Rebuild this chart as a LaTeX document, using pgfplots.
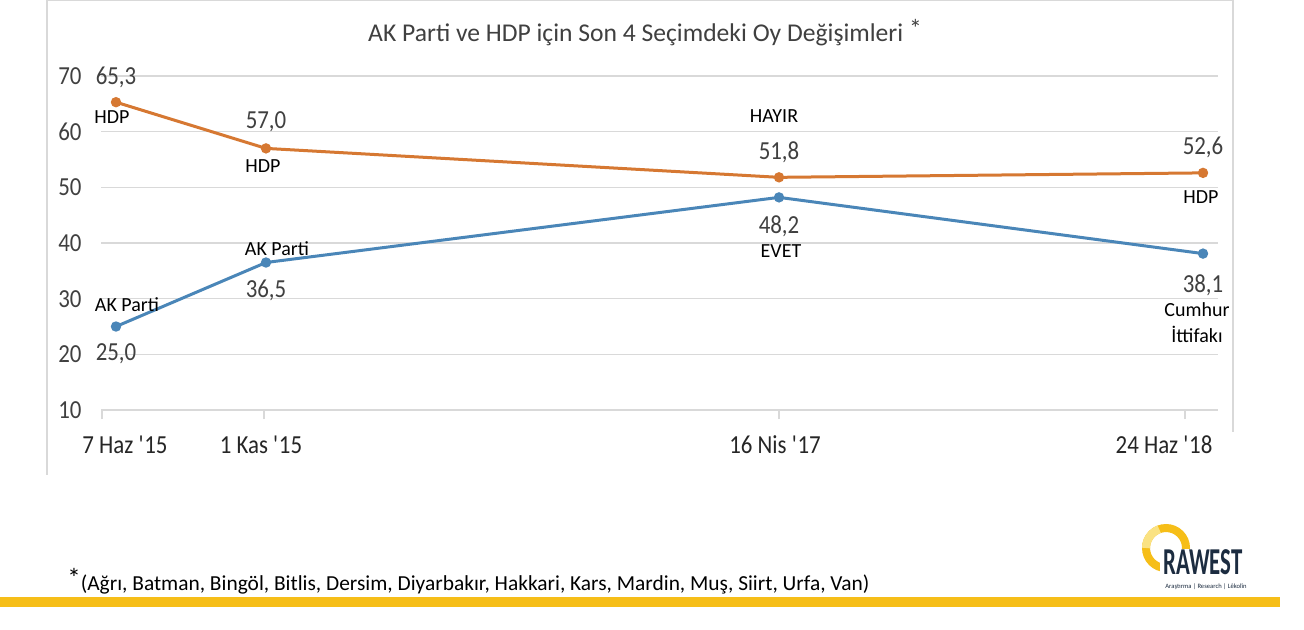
\documentclass[border=0pt]{standalone}
\usepackage{fontspec}
\setmainfont{Carlito}[FakeStretch=0.88]
\newfontfamily\lblfont{Carlito}
\newfontfamily\logofont{Carlito}[FakeStretch=0.6]
\usepackage{pgfplots}
\pgfplotsset{compat=1.18}
\definecolor{hdp}{RGB}{214,120,50}
\definecolor{akp}{RGB}{74,134,184}
\definecolor{gridc}{RGB}{217,217,217}
\definecolor{numc}{RGB}{64,64,64}
\definecolor{gold}{RGB}{246,190,24}
\definecolor{paleg}{RGB}{250,226,130}
\definecolor{navy}{RGB}{28,44,64}
\newcommand\numf{\fontsize{13pt}{15pt}\selectfont}
\newcommand\lblf{\lblfont\fontsize{10pt}{12pt}\selectfont}
\begin{document}
\begin{tikzpicture}
\useasboundingbox (0,0) rectangle (652pt,-314.5pt);
\begin{scope}[x=0.5pt,y=-0.5pt]
  \fill[white] (0,0) rectangle (1304,629);
  \draw[gridc, line width=0.6pt] (47,0.6)--(1233,0.6);
  \draw[gridc, line width=0.6pt] (47,0)--(47,475);
  \draw[gridc, line width=0.6pt] (1233,0)--(1233,432);
  \node[text=numc, font=\lblfont\fontsize{12.8pt}{15pt}\selectfont] at (645,33) {AK Parti ve HDP için Son 4 Seçimdeki Oy Değişimleri \raisebox{0.15em}{*}};
  \node[anchor=west, inner sep=0pt, font=\lblfont\fontsize{10.7pt}{13pt}\selectfont] at (67,581) {\raisebox{0.15em}{\fontsize{13.5pt}{13pt}\selectfont*}(Ağrı, Batman, Bingöl, Bitlis, Dersim, Diyarbakır, Hakkari, Kars, Mardin, Muş, Siirt, Urfa, Van)};
  \fill[gold] (0,597) rectangle (1280,607);
  % logo
  \draw[gold, line width=4pt] (1166,548) circle [radius=10pt];
  \draw[paleg, line width=4pt] (1166,548) ++(180:10pt) arc [start angle=180, end angle=110, radius=10pt];
  \fill[white] (1160,549) rectangle (1256,578);
  \node[anchor=base west, inner sep=0pt, text=navy, font=\logofont\bfseries\fontsize{19pt}{19pt}\selectfont] at (1163,574) {RAWEST};
  \node[anchor=base west, inner sep=0pt, text=navy, font=\lblfont\fontsize{3.3pt}{4pt}\selectfont] at (1165,588) {Araştırma | Research | Lêkolîn};
\end{scope}
\begin{axis}[
  scale only axis, width=558.5pt, height=167pt,
  at={(50.5pt,-205pt)}, anchor=south west,
  xmin=101, xmax=1218, ymin=10, ymax=70,
  axis lines*=left, y axis line style={draw=none},
  x axis line style={gridc, line width=0.75pt},
  ymajorgrids, grid style={gridc, line width=0.75pt},
  ytick={10,20,...,70}, ytick style={draw=none},
  yticklabel style={font=\numf, text=numc, anchor=east, xshift=-1.7pt},
  xtick={102,264,779,1185}, xticklabels={},
  xtick style={gridc, line width=0.75pt},
  tick align=outside, major tick length=4.5pt,
  extra x ticks={125,261,775,1164},
  extra x tick labels={7 Haz \textquotesingle15, 1 Kas \textquotesingle15, 16 Nis \textquotesingle17, 24 Haz \textquotesingle18},
  extra x tick style={major tick length=0pt, tick style={draw=none},
    xticklabel style={font=\numf, text=black!85, anchor=base, yshift=-21.75pt}},
  /pgf/number format/assume math mode=true,
  clip=false,
]
\addplot[hdp, line width=1.5pt, mark=*, mark size=1.8pt] coordinates {(116,65.3) (266,57.0) (779,51.8) (1203,52.6)};
\addplot[akp, line width=1.5pt, mark=*, mark size=1.8pt] coordinates {(116,25.0) (266,36.5) (779,48.2) (1203,38.1)};
% value labels
\node[text=numc, font=\numf, yshift=12.5pt] at (axis cs:116,65.3) {65,3};
\node[text=numc, font=\numf, yshift=13.5pt] at (axis cs:266,57.0) {57,0};
\node[text=numc, font=\numf, yshift=12.5pt] at (axis cs:779,51.8) {51,8};
\node[text=numc, font=\numf, yshift=13pt] at (axis cs:1203,52.6) {52,6};
\node[text=numc, font=\numf, yshift=-13.5pt] at (axis cs:116,25.0) {25,0};
\node[text=numc, font=\numf, yshift=-14pt] at (axis cs:266,36.5) {36,5};
\node[text=numc, font=\numf, yshift=-14.5pt] at (axis cs:779,48.2) {48,2};
\node[text=numc, font=\numf, yshift=-16pt] at (axis cs:1203,38.1) {38,1};
% party labels
\node[font=\lblf, xshift=-2pt, yshift=-7.5pt] at (axis cs:116,65.3) {HDP};
\node[font=\lblf, xshift=-1.5pt, yshift=-9pt] at (axis cs:266,57.0) {HDP};
\node[font=\lblf, xshift=-2.5pt, yshift=30.5pt] at (axis cs:779,51.8) {HAYIR};
\node[font=\lblf, xshift=-1pt, yshift=-12pt] at (axis cs:1203,52.6) {HDP};
\node[font=\lblf, xshift=5.5pt, yshift=11pt] at (axis cs:116,25.0) {AK Parti};
\node[font=\lblf, xshift=5.5pt, yshift=7pt] at (axis cs:266,36.5) {AK Parti};
\node[font=\lblf, xshift=1pt, yshift=-27pt] at (axis cs:779,48.2) {EVET};
\node[font=\lblf, xshift=-3pt, yshift=-28pt] at (axis cs:1203,38.1) {Cumhur};
\node[font=\lblf, xshift=-3pt, yshift=-40.5pt] at (axis cs:1203,38.1) {İttifakı};
\end{axis}
\end{tikzpicture}
\end{document}
